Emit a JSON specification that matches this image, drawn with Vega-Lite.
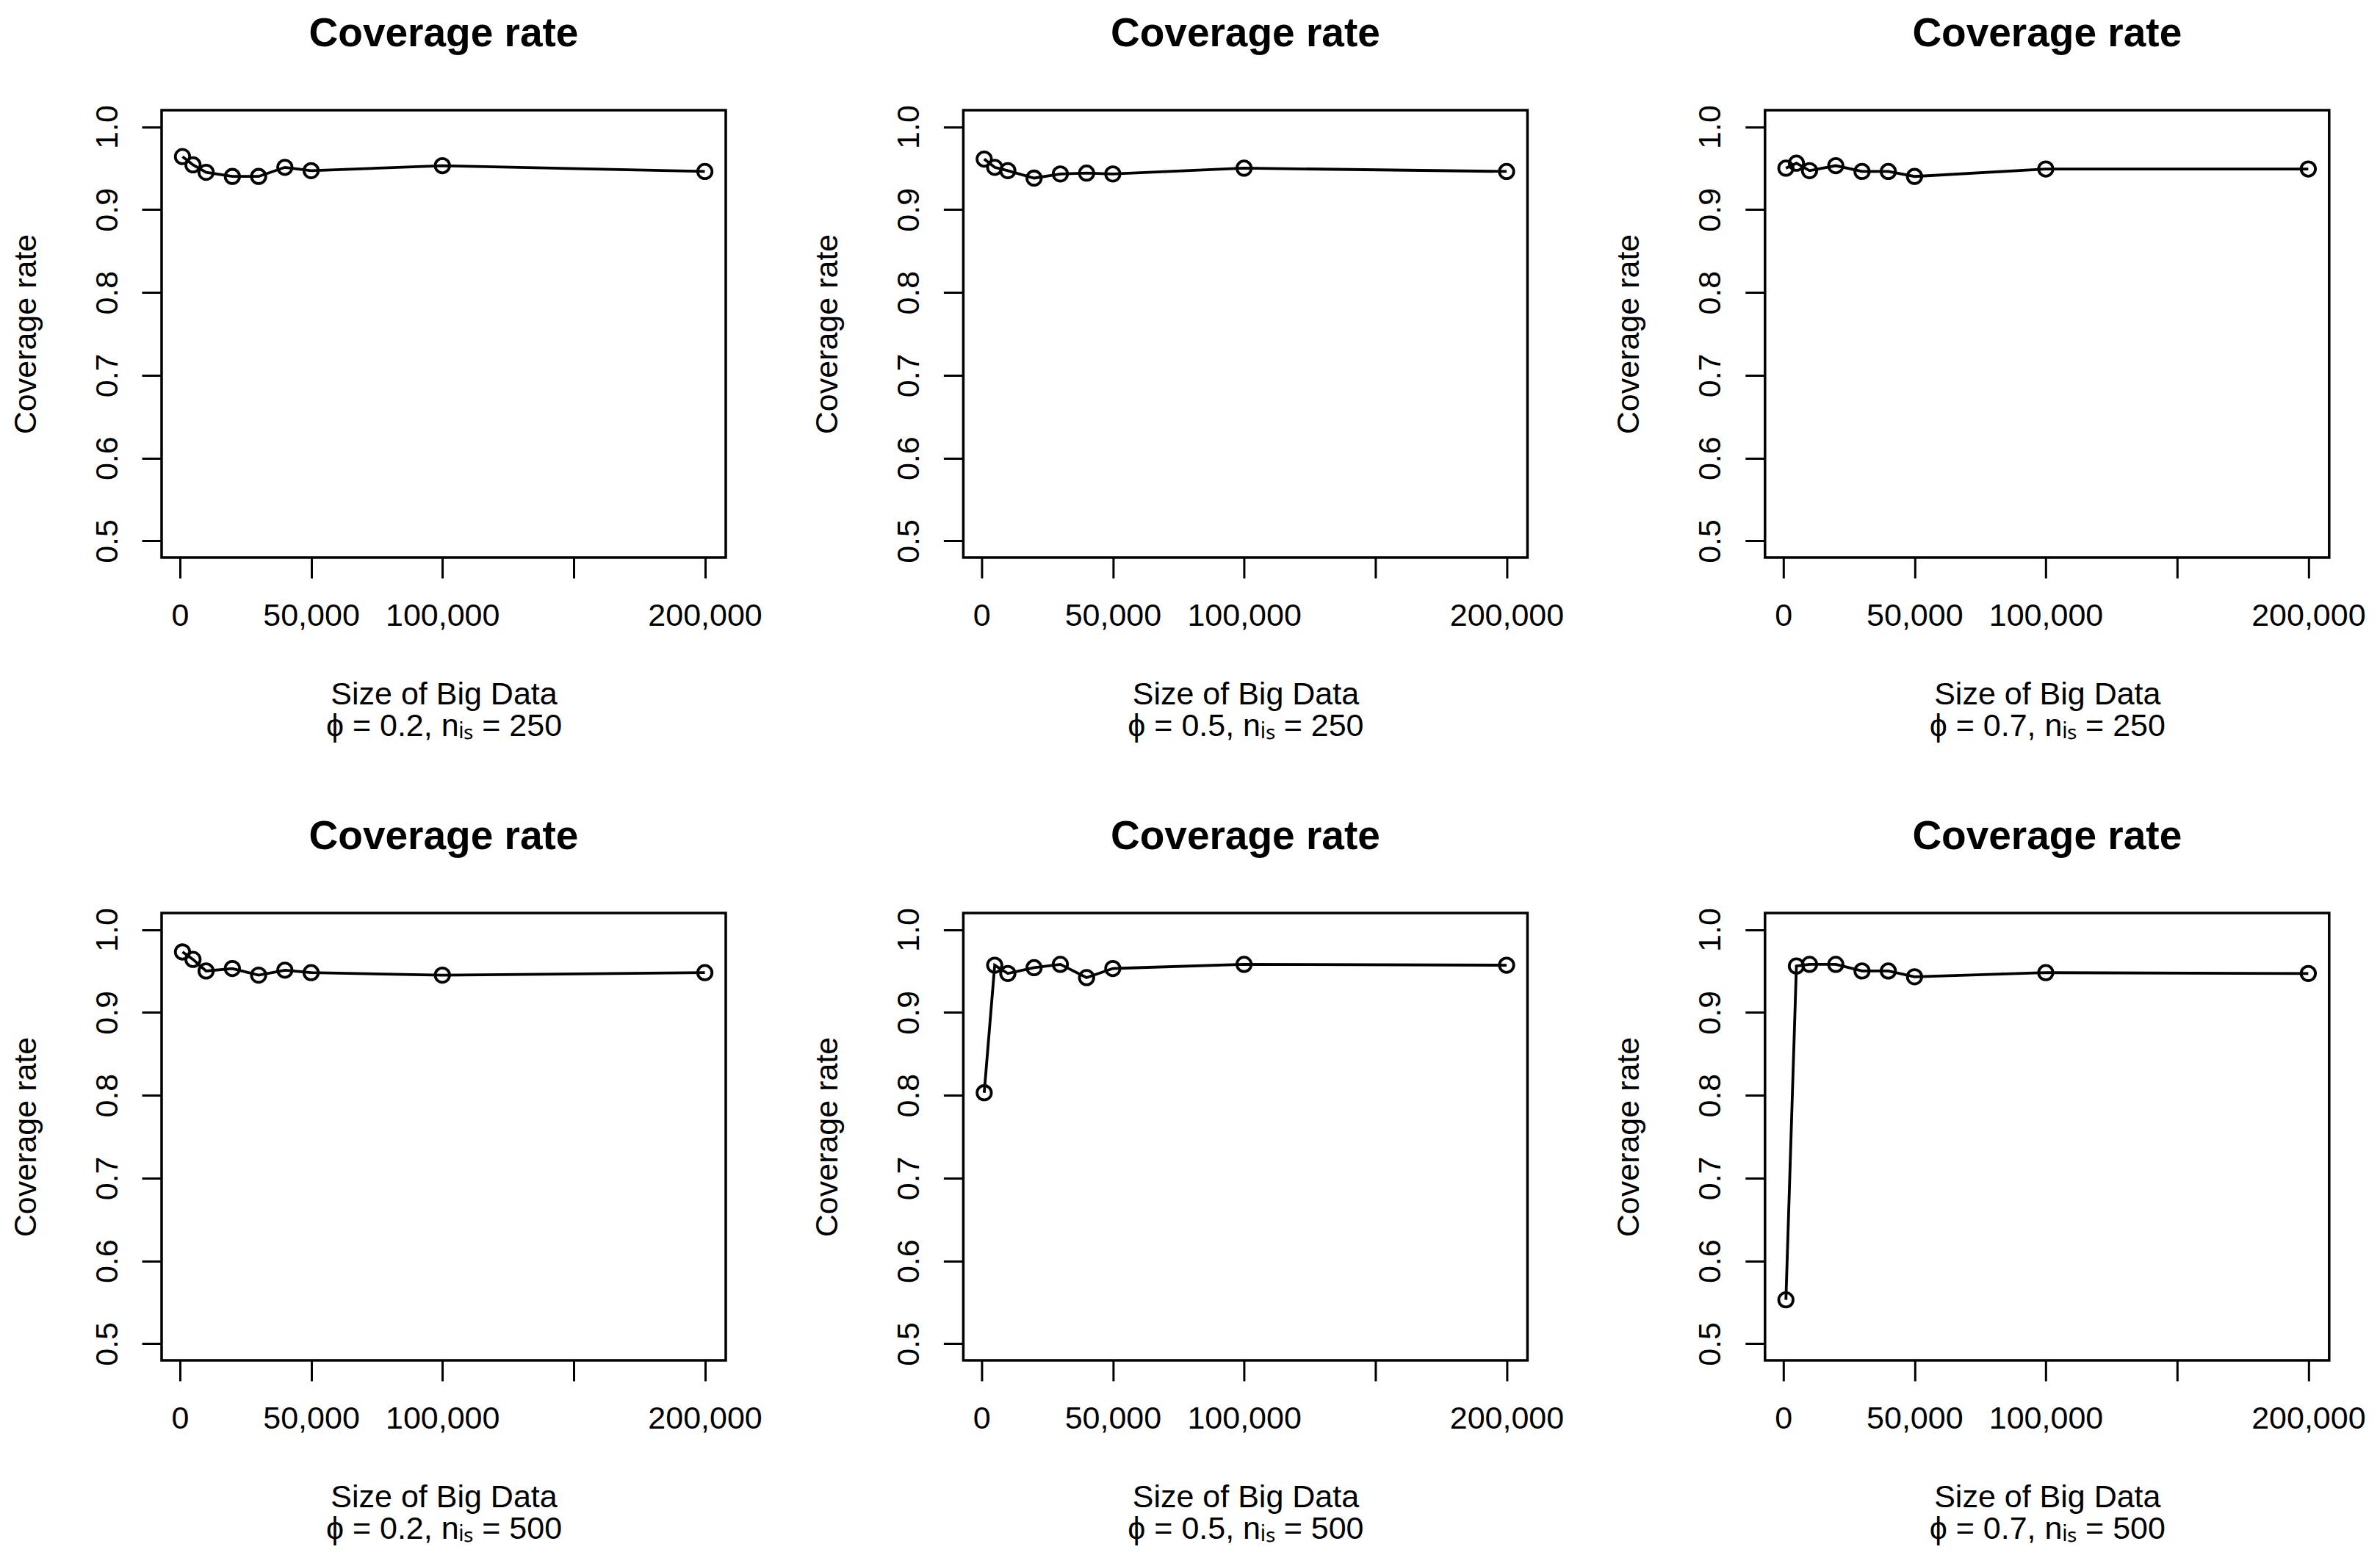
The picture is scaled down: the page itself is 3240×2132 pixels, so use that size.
{
  "$schema": "https://vega.github.io/schema/vega-lite/v6.json",
  "background": "white",
  "padding": {"left": 12, "top": 16, "right": 20, "bottom": 20},
  "datasets": {
    "cov": [
      {"phi": 0.2, "n": 250, "size": 1000, "rate": 0.964},
      {"phi": 0.2, "n": 250, "size": 5000, "rate": 0.954},
      {"phi": 0.2, "n": 250, "size": 10000, "rate": 0.945},
      {"phi": 0.2, "n": 250, "size": 20000, "rate": 0.940},
      {"phi": 0.2, "n": 250, "size": 30000, "rate": 0.940},
      {"phi": 0.2, "n": 250, "size": 40000, "rate": 0.951},
      {"phi": 0.2, "n": 250, "size": 50000, "rate": 0.947},
      {"phi": 0.2, "n": 250, "size": 100000, "rate": 0.953},
      {"phi": 0.2, "n": 250, "size": 200000, "rate": 0.946},
      {"phi": 0.5, "n": 250, "size": 1000, "rate": 0.961},
      {"phi": 0.5, "n": 250, "size": 5000, "rate": 0.951},
      {"phi": 0.5, "n": 250, "size": 10000, "rate": 0.947},
      {"phi": 0.5, "n": 250, "size": 20000, "rate": 0.938},
      {"phi": 0.5, "n": 250, "size": 30000, "rate": 0.943},
      {"phi": 0.5, "n": 250, "size": 40000, "rate": 0.944},
      {"phi": 0.5, "n": 250, "size": 50000, "rate": 0.943},
      {"phi": 0.5, "n": 250, "size": 100000, "rate": 0.950},
      {"phi": 0.5, "n": 250, "size": 200000, "rate": 0.946},
      {"phi": 0.7, "n": 250, "size": 1000, "rate": 0.950},
      {"phi": 0.7, "n": 250, "size": 5000, "rate": 0.956},
      {"phi": 0.7, "n": 250, "size": 10000, "rate": 0.947},
      {"phi": 0.7, "n": 250, "size": 20000, "rate": 0.953},
      {"phi": 0.7, "n": 250, "size": 30000, "rate": 0.946},
      {"phi": 0.7, "n": 250, "size": 40000, "rate": 0.946},
      {"phi": 0.7, "n": 250, "size": 50000, "rate": 0.940},
      {"phi": 0.7, "n": 250, "size": 100000, "rate": 0.949},
      {"phi": 0.7, "n": 250, "size": 200000, "rate": 0.949},
      {"phi": 0.2, "n": 500, "size": 1000, "rate": 0.973},
      {"phi": 0.2, "n": 500, "size": 5000, "rate": 0.964},
      {"phi": 0.2, "n": 500, "size": 10000, "rate": 0.950},
      {"phi": 0.2, "n": 500, "size": 20000, "rate": 0.953},
      {"phi": 0.2, "n": 500, "size": 30000, "rate": 0.945},
      {"phi": 0.2, "n": 500, "size": 40000, "rate": 0.951},
      {"phi": 0.2, "n": 500, "size": 50000, "rate": 0.948},
      {"phi": 0.2, "n": 500, "size": 100000, "rate": 0.945},
      {"phi": 0.2, "n": 500, "size": 200000, "rate": 0.948},
      {"phi": 0.5, "n": 500, "size": 1000, "rate": 0.803},
      {"phi": 0.5, "n": 500, "size": 5000, "rate": 0.957},
      {"phi": 0.5, "n": 500, "size": 10000, "rate": 0.947},
      {"phi": 0.5, "n": 500, "size": 20000, "rate": 0.954},
      {"phi": 0.5, "n": 500, "size": 30000, "rate": 0.958},
      {"phi": 0.5, "n": 500, "size": 40000, "rate": 0.942},
      {"phi": 0.5, "n": 500, "size": 50000, "rate": 0.953},
      {"phi": 0.5, "n": 500, "size": 100000, "rate": 0.958},
      {"phi": 0.5, "n": 500, "size": 200000, "rate": 0.957},
      {"phi": 0.7, "n": 500, "size": 1000, "rate": 0.553},
      {"phi": 0.7, "n": 500, "size": 5000, "rate": 0.956},
      {"phi": 0.7, "n": 500, "size": 10000, "rate": 0.958},
      {"phi": 0.7, "n": 500, "size": 20000, "rate": 0.958},
      {"phi": 0.7, "n": 500, "size": 30000, "rate": 0.950},
      {"phi": 0.7, "n": 500, "size": 40000, "rate": 0.950},
      {"phi": 0.7, "n": 500, "size": 50000, "rate": 0.943},
      {"phi": 0.7, "n": 500, "size": 100000, "rate": 0.948},
      {"phi": 0.7, "n": 500, "size": 200000, "rate": 0.947}
    ]
  },
  "data": {"name": "cov"},
  "columns": 3,
  "spacing": {"row": 484, "column": 323.4},
  "bounds": "flush",
  "concat": [
    {
      "title": "Coverage rate",
      "width": 768, "height": 609,
      "transform": [{"filter": "datum.phi == 0.2 && datum.n == 250"}],
      "encoding": {
        "x": {"field": "size", "type": "quantitative", "scale": {"domain": [-6960, 207960], "nice": false, "zero": false},
              "axis": {"title": ["Size of Big Data", "ϕ = 0.2, nᵢₛ = 250"], "values": [0, 50000, 100000, 150000, 200000], "labelExpr": "datum.value == 150000 ? '' : format(datum.value, ',')"}},
        "y": {"field": "rate", "type": "quantitative", "scale": {"domain": [0.48, 1.02], "nice": false, "zero": false},
              "axis": {"title": "Coverage rate", "values": [0.5, 0.6, 0.7, 0.8, 0.9, 1.0], "format": ".1f"}}
      },
      "layer": [
        {"mark": {"type": "line", "color": "black", "strokeWidth": 3.8}},
        {"mark": {"type": "point", "shape": "circle", "filled": false, "color": "black", "strokeWidth": 3.8, "size": 380, "opacity": 1}}
      ]
    },
    {
      "title": "Coverage rate",
      "width": 768, "height": 609,
      "transform": [{"filter": "datum.phi == 0.5 && datum.n == 250"}],
      "encoding": {
        "x": {"field": "size", "type": "quantitative", "scale": {"domain": [-6960, 207960], "nice": false, "zero": false},
              "axis": {"title": ["Size of Big Data", "ϕ = 0.5, nᵢₛ = 250"], "values": [0, 50000, 100000, 150000, 200000], "labelExpr": "datum.value == 150000 ? '' : format(datum.value, ',')"}},
        "y": {"field": "rate", "type": "quantitative", "scale": {"domain": [0.48, 1.02], "nice": false, "zero": false},
              "axis": {"title": "Coverage rate", "values": [0.5, 0.6, 0.7, 0.8, 0.9, 1.0], "format": ".1f"}}
      },
      "layer": [
        {"mark": {"type": "line", "color": "black", "strokeWidth": 3.8}},
        {"mark": {"type": "point", "shape": "circle", "filled": false, "color": "black", "strokeWidth": 3.8, "size": 380, "opacity": 1}}
      ]
    },
    {
      "title": "Coverage rate",
      "width": 768, "height": 609,
      "transform": [{"filter": "datum.phi == 0.7 && datum.n == 250"}],
      "encoding": {
        "x": {"field": "size", "type": "quantitative", "scale": {"domain": [-6960, 207960], "nice": false, "zero": false},
              "axis": {"title": ["Size of Big Data", "ϕ = 0.7, nᵢₛ = 250"], "values": [0, 50000, 100000, 150000, 200000], "labelExpr": "datum.value == 150000 ? '' : format(datum.value, ',')"}},
        "y": {"field": "rate", "type": "quantitative", "scale": {"domain": [0.48, 1.02], "nice": false, "zero": false},
              "axis": {"title": "Coverage rate", "values": [0.5, 0.6, 0.7, 0.8, 0.9, 1.0], "format": ".1f"}}
      },
      "layer": [
        {"mark": {"type": "line", "color": "black", "strokeWidth": 3.8}},
        {"mark": {"type": "point", "shape": "circle", "filled": false, "color": "black", "strokeWidth": 3.8, "size": 380, "opacity": 1}}
      ]
    },
    {
      "title": "Coverage rate",
      "width": 768, "height": 609,
      "transform": [{"filter": "datum.phi == 0.2 && datum.n == 500"}],
      "encoding": {
        "x": {"field": "size", "type": "quantitative", "scale": {"domain": [-6960, 207960], "nice": false, "zero": false},
              "axis": {"title": ["Size of Big Data", "ϕ = 0.2, nᵢₛ = 500"], "values": [0, 50000, 100000, 150000, 200000], "labelExpr": "datum.value == 150000 ? '' : format(datum.value, ',')"}},
        "y": {"field": "rate", "type": "quantitative", "scale": {"domain": [0.48, 1.02], "nice": false, "zero": false},
              "axis": {"title": "Coverage rate", "values": [0.5, 0.6, 0.7, 0.8, 0.9, 1.0], "format": ".1f"}}
      },
      "layer": [
        {"mark": {"type": "line", "color": "black", "strokeWidth": 3.8}},
        {"mark": {"type": "point", "shape": "circle", "filled": false, "color": "black", "strokeWidth": 3.8, "size": 380, "opacity": 1}}
      ]
    },
    {
      "title": "Coverage rate",
      "width": 768, "height": 609,
      "transform": [{"filter": "datum.phi == 0.5 && datum.n == 500"}],
      "encoding": {
        "x": {"field": "size", "type": "quantitative", "scale": {"domain": [-6960, 207960], "nice": false, "zero": false},
              "axis": {"title": ["Size of Big Data", "ϕ = 0.5, nᵢₛ = 500"], "values": [0, 50000, 100000, 150000, 200000], "labelExpr": "datum.value == 150000 ? '' : format(datum.value, ',')"}},
        "y": {"field": "rate", "type": "quantitative", "scale": {"domain": [0.48, 1.02], "nice": false, "zero": false},
              "axis": {"title": "Coverage rate", "values": [0.5, 0.6, 0.7, 0.8, 0.9, 1.0], "format": ".1f"}}
      },
      "layer": [
        {"mark": {"type": "line", "color": "black", "strokeWidth": 3.8}},
        {"mark": {"type": "point", "shape": "circle", "filled": false, "color": "black", "strokeWidth": 3.8, "size": 380, "opacity": 1}}
      ]
    },
    {
      "title": "Coverage rate",
      "width": 768, "height": 609,
      "transform": [{"filter": "datum.phi == 0.7 && datum.n == 500"}],
      "encoding": {
        "x": {"field": "size", "type": "quantitative", "scale": {"domain": [-6960, 207960], "nice": false, "zero": false},
              "axis": {"title": ["Size of Big Data", "ϕ = 0.7, nᵢₛ = 500"], "values": [0, 50000, 100000, 150000, 200000], "labelExpr": "datum.value == 150000 ? '' : format(datum.value, ',')"}},
        "y": {"field": "rate", "type": "quantitative", "scale": {"domain": [0.48, 1.02], "nice": false, "zero": false},
              "axis": {"title": "Coverage rate", "values": [0.5, 0.6, 0.7, 0.8, 0.9, 1.0], "format": ".1f"}}
      },
      "layer": [
        {"mark": {"type": "line", "color": "black", "strokeWidth": 3.8}},
        {"mark": {"type": "point", "shape": "circle", "filled": false, "color": "black", "strokeWidth": 3.8, "size": 380, "opacity": 1}}
      ]
    }
  ],
  "config": {
    "font": "Liberation Sans",
    "view": {"stroke": "black", "strokeWidth": 3.5, "fill": "white"},
    "title": {"fontSize": 55, "fontWeight": "bold", "color": "black", "anchor": "middle", "frame": "group", "baseline": "alphabetic", "offset": 68, "font": "Liberation Sans"},
    "axis": {
      "domain": false, "grid": false,
      "tickColor": "black", "tickWidth": 3,
      "labelFont": "Liberation Sans", "labelFontSize": 43, "labelColor": "black",
      "labelFlush": false, "labelOverlap": false,
      "titleFont": "Liberation Sans", "titleFontSize": 43, "titleFontWeight": "normal", "titleColor": "black"
    },
    "axisX": {"tickSize": 28, "labelPadding": 30, "titlePadding": 64, "titleLineHeight": 43},
    "axisY": {"tickSize": 27, "labelAngle": -90, "labelAlign": "center", "labelBaseline": "alphabetic", "labelPadding": 34, "titlePadding": 68}
  }
}
